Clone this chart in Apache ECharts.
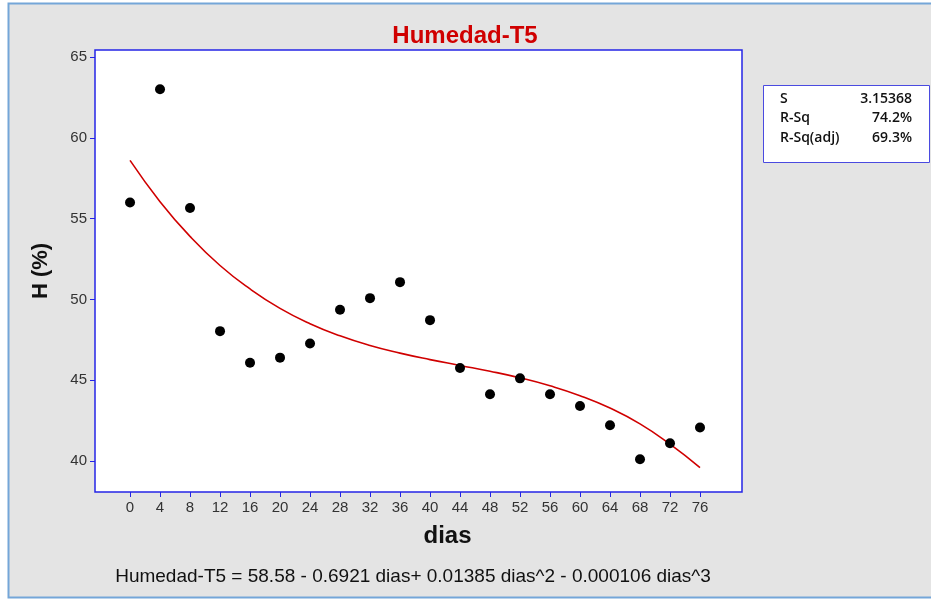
<!DOCTYPE html>
<html>
<head>
<meta charset="utf-8">
<script src="https://cdn.jsdelivr.net/npm/echarts@6/dist/echarts.min.js"></script>
<style>
  html, body { margin: 0; padding: 0; background: #fff; }
  #chart { width: 931px; height: 601px; }
</style>
</head>
<body>
<div id="chart"></div>
<script>
// observed values
const dias = [0, 4, 8, 12, 16, 20, 24, 28, 32, 36, 40, 44, 48, 52, 56, 60, 64, 68, 72, 76]
const humedad = [56.0, 63.0, 55.66, 48.04, 46.09, 46.4, 47.28, 49.36, 50.08, 51.07,
  48.72, 45.76, 44.14, 45.12, 44.14, 43.41, 42.22, 40.12, 41.11, 42.08]
// fitted curve read at each day
const ajuste = [58.6, 56.05, 53.9, 52.1, 50.65, 49.45, 48.5, 47.75, 47.15, 46.68,
  46.28, 45.92, 45.56, 45.15, 44.66, 44.05, 43.28, 42.3, 41.05, 39.6]
const yTicks = [40, 45, 50, 55, 60, 65]
const statNames = ['S', 'R-Sq', 'R-Sq(adj)']
const statValues = ['3.15368', '74.2%', '69.3%']

const blue = '#2424e6'
const chart = echarts.init(document.getElementById('chart'))

const statFont = '600 14px "Open Sans", sans-serif'
const statTexts = []
statNames.forEach((name, i) => {
  statTexts.push({
    type: 'text', x: 780, y: 99 + i * 19.5,
    style: { text: name, font: statFont, fill: '#111', verticalAlign: 'middle' }
  })
  statTexts.push({
    type: 'text', x: 912, y: 99 + i * 19.5,
    style: { text: statValues[i], font: statFont, fill: '#111', align: 'right', verticalAlign: 'middle' }
  })
})

chart.setOption({
  animation: false,
  backgroundColor: '#ffffff',
  textStyle: { fontFamily: '"Liberation Sans", Arial, sans-serif' },
  title: {
    text: 'Humedad-T5',
    left: 460,
    top: 19,
    textAlign: 'center',
    textStyle: { color: '#d00000', fontSize: 24, fontWeight: 'bold', fontFamily: '"Liberation Sans", Arial, sans-serif' }
  },
  graphic: [
    {
      type: 'rect', z: -10, silent: true,
      shape: { x: 8.5, y: 3.5, width: 930, height: 594 },
      style: { fill: '#e4e4e4', stroke: '#74a6d8', lineWidth: 2 }
    },
    {
      type: 'rect', silent: true,
      shape: { x: 763.5, y: 85.5, width: 166, height: 77 },
      style: { fill: '#ffffff', stroke: '#4a4ae0', lineWidth: 1 }
    },
    ...statTexts,
    {
      type: 'text', x: 413, y: 577,
      style: {
        text: 'Humedad-T5 = 58.58 - 0.6921 dias+ 0.01385 dias^2 - 0.000106 dias^3',
        font: '19px "Liberation Sans", Arial, sans-serif', fill: '#111',
        align: 'center', verticalAlign: 'middle'
      }
    }
  ],
  grid: {
    left: 95, top: 50, right: 189, bottom: 109,
    show: true, backgroundColor: '#ffffff', borderColor: blue, borderWidth: 1.5
  },
  xAxis: {
    type: 'value',
    min: -4.67,
    max: 81.6,
    name: 'dias',
    nameLocation: 'middle',
    nameGap: 32,
    nameTextStyle: { fontSize: 24, fontWeight: 'bold', color: '#111', padding: [0, 0, 0, 58] },
    axisLine: { show: false, onZero: false },
    axisTick: { show: true, length: 5, lineStyle: { color: blue }, customValues: dias },
    axisLabel: { color: '#333', fontSize: 15, margin: 8, customValues: dias },
    splitLine: { show: false }
  },
  yAxis: {
    type: 'value',
    min: 38.09,
    max: 65.43,
    name: 'H (%)',
    nameLocation: 'middle',
    nameGap: 43,
    nameTextStyle: { fontSize: 22, fontWeight: 'bold', color: '#111' },
    axisLine: { show: false, onZero: false },
    axisTick: { show: true, length: 5, lineStyle: { color: blue }, customValues: yTicks },
    axisLabel: { color: '#333', fontSize: 15, margin: 8, customValues: yTicks },
    splitLine: { show: false }
  },
  series: [
    {
      type: 'line',
      data: dias.map((d, i) => [d, ajuste[i]]),
      smooth: true,
      showSymbol: false,
      lineStyle: { color: '#d00000', width: 1.6 },
      z: 2
    },
    {
      type: 'scatter',
      data: dias.map((d, i) => [d, humedad[i]]),
      symbolSize: 10,
      itemStyle: { color: '#000000', opacity: 1 },
      z: 3
    }
  ]
})
</script>
</body>
</html>
